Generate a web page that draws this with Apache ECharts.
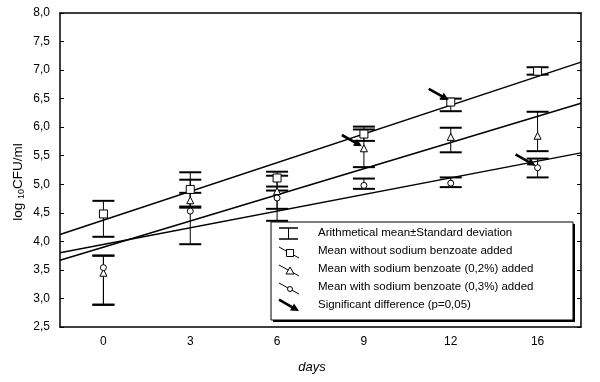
<!DOCTYPE html>
<html><head><meta charset="utf-8">
<script src="https://cdn.jsdelivr.net/npm/echarts/dist/echarts.min.js"></script>
<style>html,body{margin:0;padding:0;background:#fff}#c{width:600px;height:382px}</style>
</head><body><div id="c"></div>
<script>
// ---- data ----
const days = ['0', '3', '6', '9', '12', '16'];
// mean without sodium benzoate
const meanNo = [4.48, 4.91, 5.11, 5.88, 6.44, 6.98];
const lowNo  = [4.08, 4.61, 4.96, 5.76, 6.28, 6.92];
const highNo = [4.71, 5.21, 5.22, 6.01, 6.50, 7.05];
// mean with sodium benzoate 0,2 %
const mean02 = [3.45, 4.72, 4.88, 5.63, 5.83, 5.85];
const low02  = [2.89, 4.59, 4.57, 5.30, 5.56, 5.58];
const high02 = [3.75, 4.85, 5.15, 5.96, 5.99, 6.27];
// mean with sodium benzoate 0,3 %
const mean03 = [3.54, 4.53, 4.76, 4.98, 5.02, 5.29];
const low03  = [2.89, 3.95, 4.36, 4.92, 4.95, 5.12];
const high03 = [3.75, 5.08, 4.89, 5.10, 5.12, 5.45];
// linear regression lines, values at the plot's left and right edges
const fitX  = [-0.5, 5.5];
const fitNo = [4.12, 7.14];
const fit02 = [3.67, 6.42];
const fit03 = [3.80, 5.55];
// significant differences (category indexes)
const sigNo = [4];
const sig02 = [3];
const sig03 = [5];
const yMin = 2.5, yMax = 8.0, yStep = 0.5;
const legendTexts = [
  'Arithmetical mean\u00b1Standard deviation',
  'Mean without sodium benzoate added',
  'Mean with sodium benzoate (0,2%) added',
  'Mean with sodium benzoate (0,3%) added',
  'Significant difference (p=0,05)'
];

const FONT = 'Liberation Sans, Arial, sans-serif';
const chart = echarts.init(document.getElementById('c'));

function errData(low, high) { return low.map((l, i) => [i, l, high[i]]); }
function errRender(params, api) {
  const x = api.value(0);
  const p1 = api.coord([x, api.value(1)]);
  const p2 = api.coord([x, api.value(2)]);
  const w = 11;
  return { type: 'group', children: [
    { type: 'line', shape: { x1: p1[0], y1: p1[1], x2: p2[0], y2: p2[1] }, style: { stroke: '#000', lineWidth: 1 } },
    { type: 'line', shape: { x1: p1[0] - w, y1: p1[1], x2: p1[0] + w, y2: p1[1] }, style: { stroke: '#000', lineWidth: 2 } },
    { type: 'line', shape: { x1: p2[0] - w, y1: p2[1], x2: p2[0] + w, y2: p2[1] }, style: { stroke: '#000', lineWidth: 2 } }
  ]};
}
function arrowShapes(tx, ty) {
  const ang = Math.atan2(11, 19.5), L = 23, H = 8, HW = 4;
  const dx = Math.cos(ang), dy = Math.sin(ang);
  const bx = tx - H * dx, by = ty - H * dy;
  return [
    { type: 'line', shape: { x1: tx - L * dx, y1: ty - L * dy, x2: bx + dx, y2: by + dy }, style: { stroke: '#000', lineWidth: 2.6 } },
    { type: 'polygon', shape: { points: [[tx, ty], [bx - HW * dy, by + HW * dx], [bx + HW * dy, by - HW * dx]] }, style: { fill: '#000' } }
  ];
}
function arrowRender(params, api) {
  const p = api.coord([api.value(0), api.value(1)]);
  return { type: 'group', children: arrowShapes(p[0] - 2, p[1] - 2) };
}
function arrowData(idx, vals) { return idx.map(i => [i, vals[i]]); }

const scatterBase = { type: 'scatter', xAxisIndex: 0, yAxisIndex: 0, z: 5,
  itemStyle: { color: '#fff', borderColor: '#000', borderWidth: 1, opacity: 1 } };
const fitBase = { type: 'line', xAxisIndex: 2, yAxisIndex: 0, symbol: 'none', z: 3,
  lineStyle: { color: '#000', width: 1.5 } };

// legend graphics
const lgX = 271, lgY = 222, lgW = 302, lgH = 98;
const rowY = [233, 251, 269, 287, 305];
const legendEls = [
  { type: 'rect', shape: { x: lgX + 2, y: lgY + 2, width: lgW, height: lgH }, style: { fill: '#000' }, z: 20 },
  { type: 'rect', shape: { x: lgX, y: lgY, width: lgW, height: lgH }, style: { fill: '#fff', stroke: '#000', lineWidth: 1 }, z: 21 },
  // error bar icon
  { type: 'line', shape: { x1: 279, y1: 228, x2: 298, y2: 228 }, style: { stroke: '#000', lineWidth: 1.5 }, z: 22 },
  { type: 'line', shape: { x1: 279, y1: 239, x2: 298, y2: 239 }, style: { stroke: '#000', lineWidth: 1.5 }, z: 22 },
  { type: 'line', shape: { x1: 288.5, y1: 228, x2: 288.5, y2: 239 }, style: { stroke: '#000', lineWidth: 1 }, z: 22 }
];
[['rect', 7], ['triangle', 7], ['circle', 5]].forEach((s, k) => {
  const cy = rowY[k + 1] + 2;
  legendEls.push({ type: 'line', shape: { x1: 279, y1: cy - 6, x2: 299, y2: cy + 5 }, style: { stroke: '#000', lineWidth: 1 }, z: 22 });
  if (s[0] === 'rect') legendEls.push({ type: 'rect', shape: { x: 290 - 3.5, y: cy - 3.5, width: 7, height: 7 }, style: { fill: '#fff', stroke: '#000', lineWidth: 1 }, z: 23 });
  if (s[0] === 'triangle') legendEls.push({ type: 'polygon', shape: { points: [[290, cy - 4], [294, cy + 3], [286, cy + 3]] }, style: { fill: '#fff', stroke: '#000', lineWidth: 1 }, z: 23 });
  if (s[0] === 'circle') legendEls.push({ type: 'circle', shape: { cx: 290, cy: cy, r: 2.5 }, style: { fill: '#fff', stroke: '#000', lineWidth: 1 }, z: 23 });
});
arrowShapes(299, 311).forEach(e => { e.z = 22; legendEls.push(e); });
legendTexts.forEach((t, i) => legendEls.push({ type: 'text', x: 318, y: rowY[i], z: 22,
  style: { text: t, font: '11.5px ' + FONT, fill: '#000', verticalAlign: 'middle', align: 'left' } }));

const option = {
  animation: false,
  backgroundColor: '#fff',
  grid: { left: 60, right: 19, top: 13, bottom: 55, show: false },
  xAxis: [
    { type: 'category', data: days, position: 'bottom',
      axisLine: { onZero: false, lineStyle: { color: '#000', width: 1.5 } },
      axisTick: { inside: true, length: 4, lineStyle: { color: '#000' } },
      axisLabel: { color: '#000', fontSize: 12, fontFamily: FONT, margin: 9 },
      splitLine: { show: false } },
    { type: 'category', data: days, position: 'top',
      axisLine: { onZero: false, lineStyle: { color: '#000', width: 1.5 } },
      axisTick: { inside: true, length: 4, lineStyle: { color: '#000' } },
      axisLabel: { show: false }, splitLine: { show: false } },
    { type: 'value', min: fitX[0], max: fitX[1], show: false, position: 'bottom',
      axisLine: { show: false, onZero: false }, axisTick: { show: false }, axisLabel: { show: false }, splitLine: { show: false } }
  ],
  yAxis: [
    { type: 'value', min: yMin, max: yMax, interval: yStep, position: 'left',
      axisLine: { show: true, onZero: false, lineStyle: { color: '#000', width: 1.5 } },
      axisTick: { show: true, inside: true, length: 4, lineStyle: { color: '#000' } },
      axisLabel: { color: '#000', fontSize: 12, fontFamily: FONT, margin: 10,
        formatter: v => v.toFixed(1).replace('.', ',') },
      splitLine: { show: false } },
    { type: 'value', min: yMin, max: yMax, interval: yStep, position: 'right',
      axisLine: { show: true, onZero: false, lineStyle: { color: '#000', width: 1.5 } },
      axisTick: { show: true, inside: true, length: 4, lineStyle: { color: '#000' } },
      axisLabel: { show: false }, splitLine: { show: false } }
  ],
  series: [
    Object.assign({}, fitBase, { data: fitX.map((x, i) => [x, fitNo[i]]) }),
    Object.assign({}, fitBase, { data: fitX.map((x, i) => [x, fit02[i]]) }),
    Object.assign({}, fitBase, { data: fitX.map((x, i) => [x, fit03[i]]) }),
    { type: 'custom', renderItem: errRender, data: errData(lowNo, highNo), encode: { x: 0, y: [1, 2] }, z: 4 },
    { type: 'custom', renderItem: errRender, data: errData(low02, high02), encode: { x: 0, y: [1, 2] }, z: 4 },
    { type: 'custom', renderItem: errRender, data: errData(low03, high03), encode: { x: 0, y: [1, 2] }, z: 4 },
    Object.assign({}, scatterBase, { symbol: 'rect', symbolSize: 8, data: meanNo.map((v, i) => [i, v]) }),
    Object.assign({}, scatterBase, { symbol: 'triangle', symbolSize: 7, data: mean02.map((v, i) => [i, v]) }),
    Object.assign({}, scatterBase, { symbol: 'circle', symbolSize: 6, data: mean03.map((v, i) => [i, v]) }),
    { type: 'custom', renderItem: arrowRender, z: 6, encode: { x: 0, y: 1 },
      data: arrowData(sigNo, meanNo).concat(arrowData(sig02, mean02), arrowData(sig03, mean03)) }
  ],
  graphic: legendEls.concat([
    { type: 'text', x: 18, y: 182, rotation: Math.PI / 2, z: 10,
      style: { text: '{a|log }{b|10}{a|CFU/ml}', align: 'center', verticalAlign: 'middle',
        rich: { a: { fontSize: 13.5, fontFamily: FONT, fill: '#000', lineHeight: 16 },
                b: { fontSize: 9, fontFamily: FONT, fill: '#000', lineHeight: 9, verticalAlign: 'bottom' } } } },
    { type: 'text', x: 312, y: 367, z: 10,
      style: { text: 'days', font: 'italic 13px ' + FONT, fill: '#000', align: 'center', verticalAlign: 'middle' } }
  ])
};
chart.setOption(option);
</script></body></html>
